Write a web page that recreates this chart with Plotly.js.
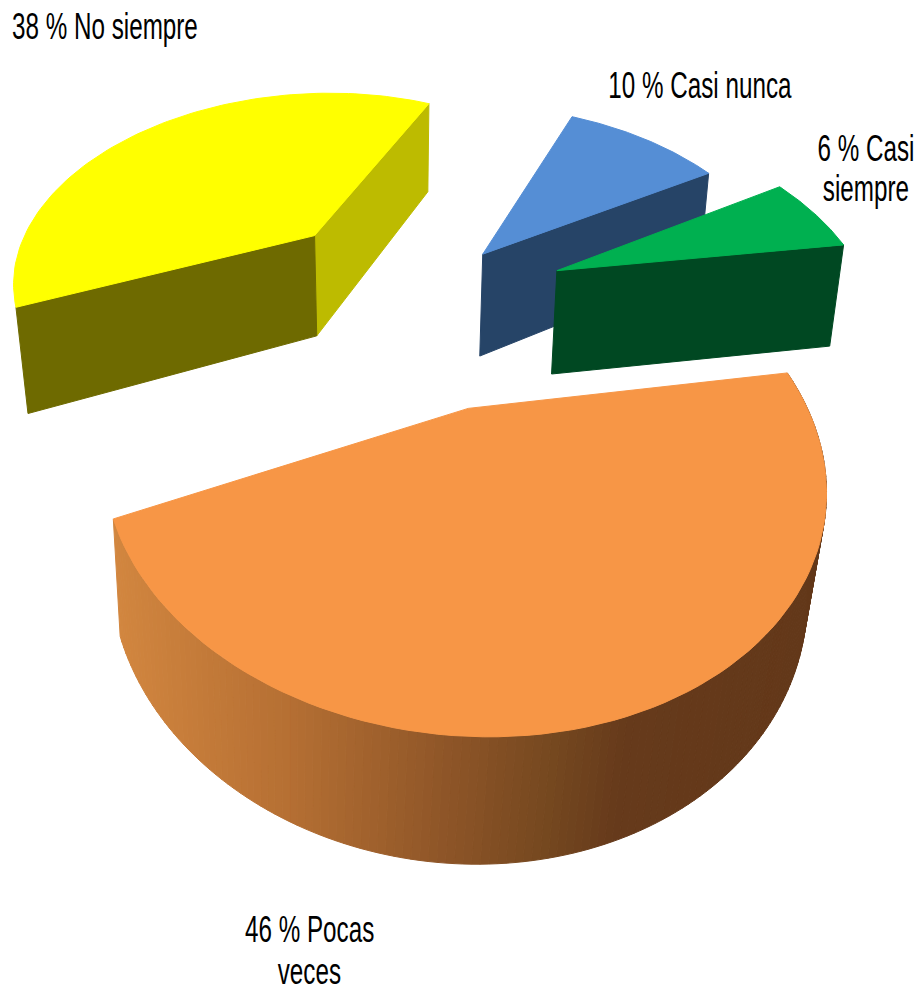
<!DOCTYPE html>
<html lang="es"><head><meta charset="utf-8"><script src="https://cdn.plot.ly/plotly-3.0.1.min.js"></script>
<style>html,body{margin:0;padding:0;background:#fff}</style></head><body><div id="chart" style="width:923px;height:993px"></div>
<script>
// Exploded 3-D pie: each slice is built from its share, projected through a perspective
// camera onto pixel-scaled axes, and painted back to front as filled scatter polygons.
const categories = ["Casi nunca", "Casi siempre", "Pocas veces", "No siempre"];
const values = [10, 6, 46, 38];
const labelLines = [["10 % Casi nunca"], ["6 % Casi", "siempre"], ["46 % Pocas", "veces"], ["38 % No siempre"]];
const topColors = ["#558ED5", "#00B050", "#F79646", "#FFFF00"];
const labelPositions = [[[700, 85]], [[866, 148], [866, 188]], [[309, 929], [309, 971]], [[105, 26]]];

// Homogeneous projection terms: [a, b, c, d, e, f, g, h, zx, zy, zw].
const backCamera = [211.007, 248.48, 415.877, -121.375, 54.3325, 301.747, 0.203979, -0.0929667, 12.9179, 119.499, 0.0334308];
const frontCamera = [205.65, 260.569, 412.277, -109.435, 58.2681, 299.645, 0.219094, -0.0689285, 9.10989, 111.206, 0.0314273];
const sliceCamera = [backCamera, backCamera, frontCamera, backCamera];
const explode = [0.33823, 0.493808, 0.521897, 0.4962];

const total = values.reduce((s, v) => s + v, 0);
let running = 0;
const spans = values.map(v => { const a = running / total * 2 * Math.PI; running += v; return [a, running / total * 2 * Math.PI]; });

// Project a point of slice i at polar (phi, r); z = 0 is the top face, z = 1 the bottom face.
function project(i, phi, r, z) {
  const c = sliceCamera[i], mid = (spans[i][0] + spans[i][1]) / 2;
  const u = explode[i] * Math.cos(mid) + r * Math.cos(phi);
  const v = explode[i] * Math.sin(mid) + r * Math.sin(phi);
  const w = 1 + c[6] * u + c[7] * v + c[10] * z;
  return [(c[0] * u + c[1] * v + c[2] + c[8] * z) / w, (c[3] * u + c[4] * v + c[5] + c[9] * z) / w];
}

const traces = [];
function polygon(points, color) {
  const closed = points.concat([points[0]]);
  traces.push({x: closed.map(q => q[0]), y: closed.map(q => q[1]), mode: "lines", fill: "toself",
    fillcolor: color, line: {color: color, width: 1}, hoverinfo: "skip"});
}
function cutFace(i, phi, color) {
  polygon([project(i, phi, 0, 0), project(i, phi, 1, 0), project(i, phi, 1, 1), project(i, phi, 0, 1)], color);
}
function topFace(i) {
  const pts = [project(i, 0, 0, 0)], n = 90;
  for (let t = 0; t <= n; t++) pts.push(project(i, spans[i][0] + (spans[i][1] - spans[i][0]) * t / n, 1, 0));
  polygon(pts, topColors[i]);
}

// Outer wall shading runs from light on the left to dark on the right.
const wallStops = [[113, [210, 134, 63]], [290, [181, 111, 51]], [457, [140, 84, 39]], [560, [116, 71, 31]], [627, [102, 58, 27]], [825, [99, 56, 25]]];
function wallColor(x) {
  for (let k = 1; k < wallStops.length; k++) {
    if (x <= wallStops[k][0]) {
      const [x0, c0] = wallStops[k - 1], [x1, c1] = wallStops[k], t = Math.max(0, (x - x0) / (x1 - x0));
      return "rgb(" + c0.map((v, j) => Math.round(v + (c1[j] - v) * t)).join(",") + ")";
    }
  }
  return "rgb(99,56,25)";
}
function wall(i) {
  const n = 150, d = spans[i][1] - spans[i][0];
  for (let t = 0; t < n; t++) {
    const f0 = spans[i][0] + d * t / n, f1 = spans[i][0] + d * (t + 1) / n;
    const a = project(i, f0, 1, 0), b = project(i, f1, 1, 0);
    polygon([a, b, project(i, f1, 1, 1), project(i, f0, 1, 1)], wallColor((a[0] + b[0]) / 2));
  }
}

cutFace(3, spans[3][1], "#BDBB00"); cutFace(3, spans[3][0], "#6E6A00"); topFace(3);
cutFace(0, spans[0][1], "#264467"); topFace(0);
cutFace(1, spans[1][1], "#004822"); topFace(1);
wall(2); topFace(2);

const annotations = [];
labelPositions.forEach((lines, i) => lines.forEach((q, j) => annotations.push({
  x: q[0], y: q[1], xref: "x", yref: "y", showarrow: false,
  font: {size: 37, family: "Liberation Sans", color: "#000"}, text: labelLines[i][j]
})));

Plotly.newPlot("chart", traces, {
  width: 923, height: 993, margin: {l: 0, r: 0, t: 0, b: 0}, showlegend: false,
  paper_bgcolor: "#fff", plot_bgcolor: "#fff",
  xaxis: {range: [0, 923], visible: false, fixedrange: true},
  yaxis: {range: [993, 0], visible: false, fixedrange: true},
  annotations: annotations
}, {displayModeBar: false}).then(gd => {
  // Condense the label lettering horizontally.
  gd.querySelectorAll(".annotation").forEach(g => {
    const b = g.getBBox(), cx = b.x + b.width / 2;
    g.setAttribute("transform", "translate(" + cx + ",0) scale(0.655,1) translate(" + (-cx) + ",0)");
  });
});
</script></body></html>
